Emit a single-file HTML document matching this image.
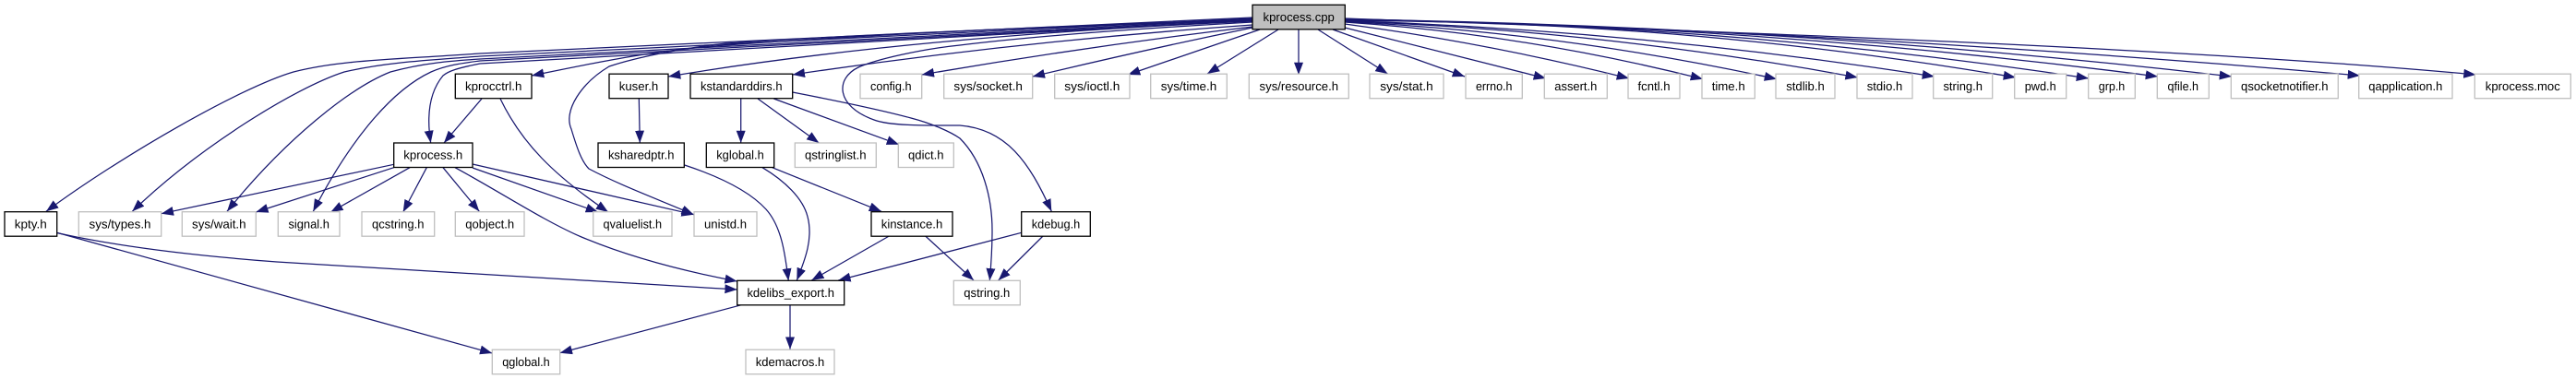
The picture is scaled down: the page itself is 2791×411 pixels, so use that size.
<!DOCTYPE html>
<html><head><meta charset="utf-8"><style>
html,body{margin:0;padding:0;background:#fff;width:2791px;height:411px;overflow:hidden}
svg{display:block}
.e path{fill:none;stroke:#191970;stroke-width:1.25;marker-end:url(#a)}
.b rect{fill:#fff;stroke:#000;stroke-width:1.3}
.g rect{fill:#fff;stroke:#bfbfbf;stroke-width:1.3}
text{font-family:"Liberation Sans",sans-serif;font-size:13.33px;fill:#000;text-anchor:middle;text-rendering:geometricPrecision}
</style></head><body>
<svg width="2791" height="411" viewBox="0 0 2791 411" xmlns="http://www.w3.org/2000/svg">
<defs><marker id="a" markerUnits="userSpaceOnUse" markerWidth="14" markerHeight="11" refX="13.3" refY="5" orient="auto"><path d="M0,0 L13.3,5 L0,10 z" fill="#191970"/></marker></defs>
<g class="e">
<path d="M1357,19 L520,58 C420,65 370,65 318,78 C260,95 130,170 50,229.3"/>
<path d="M1357,20 L520,61 C470,65 420,67 373,78 C320,95 215,160 143.3,229.3"/>
<path d="M1357,21 L520,64 C490,66 460,68 423,78 C380,95 310,150 246,229.3"/>
<path d="M1357,22 L520,66 C505,68 485,70 467,78 C420,100 375,160 339.3,229.3"/>
<path d="M1357,22 L520,69 C495,74 486,77 480,82 C465,100 462,125 466.7,155"/>
<path d="M1357,21 C1250,25 1000,33 773,50 C700,56 640,69 576,82"/>
<path d="M1357,23 C1200,30 950,45 724,83"/>
<path d="M1357,27 Q1100,45 858.7,81"/>
<path d="M1357,29 Q1180,50 998.7,81"/>
<path d="M1357,30 Q1240,54 1118.7,83"/>
<path d="M1365,32 L1222,81"/>
<path d="M1385,32 L1308,80"/>
<path d="M1407,32 L1407,81"/>
<path d="M1428,32 L1503.5,80"/>
<path d="M1444,32 L1587,83"/>
<path d="M1457,30 L1675,85"/>
<path d="M1457,26 Q1611,46.5 1765,85"/>
<path d="M1457,24 Q1651,37 1845,85.7"/>
<path d="M1457,23.5 Q1691,35 1925,85.7"/>
<path d="M1457,23 Q1735,32.7 2012.7,84"/>
<path d="M1457,22.5 Q1776,33 2096,83"/>
<path d="M1457,22.5 Q1820,22 2184,84"/>
<path d="M1457,22 Q1860,24 2263,85"/>
<path d="M1457,21.5 Q1897,25.8 2338,83"/>
<path d="M1457,21 Q1937,27.4 2418,83"/>
<path d="M1457,20.5 Q2007,33.7 2557,82"/>
<path d="M1457,20 C1800,32 2350,50 2682.6,81"/>
<path d="M1357,22 C1200,27 950,36 787,47 C740,52 690,62 660,72 C630,90 610,120 619,140 C625,160 630,175 638,183 C670,200 710,215 751.7,232.7"/>
<path d="M1357,24 C1250,30 1130,38 1040,49 C1000,53 950,64 930,73 C905,85 905,115 947,130 C965,137 1010,136 1040,136 C1090,140 1115,175 1139.3,229.3"/>
<path d="M522,107 L481,155"/>
<path d="M542,107 C565,155 600,190 659,230"/>
<path d="M426.7,178.3 L174.7,231.7"/>
<path d="M426.7,181.7 L277.3,230"/>
<path d="M444,181.7 L358.3,230"/>
<path d="M462.3,181.7 L436.7,230"/>
<path d="M480,181.7 L519.3,229.3"/>
<path d="M493,181.7 C540,207 590,240 630,257 C680,278 735,293 798.7,305"/>
<path d="M512,182 L648,230"/>
<path d="M512,178 L751.7,232.7"/>
<path d="M692.3,107 L693.3,155"/>
<path d="M741.7,179 C775,190 810,205 830,227 C848,247 851,280 854.3,304.5"/>
<path d="M802.7,107 L802.7,155"/>
<path d="M821,107 L887.3,155"/>
<path d="M838.3,107 L974,156.7"/>
<path d="M858.7,100 C900,108 950,118 987,128 C1010,134 1030,143 1040,150 C1065,175 1075,215 1075,250 C1075,270 1074,285 1072.3,304.3"/>
<path d="M826,181.7 C850,196 870,215 875,235 C881,258 873,280 863.3,304"/>
<path d="M836.7,181.7 L955,229.3"/>
<path d="M963.3,256 L879.3,304"/>
<path d="M1002.7,256 L1055,304"/>
<path d="M1106.7,252.3 L908.3,304"/>
<path d="M1130,256 L1081.7,304"/>
<path d="M803.3,330.7 L606.7,382.7"/>
<path d="M856,330.7 L856,378.7"/>
<path d="M61.7,252.5 C130,268 220,278 300,284 C400,291 600,303 798.7,314"/>
<path d="M61.7,252.3 L533.3,383"/>
</g>
<g class="b">
<rect x="1357" y="5.3" width="100.3" height="26.5" style="fill:#bfbfbf"/><text x="1407.2" y="23" textLength="77.3" lengthAdjust="spacingAndGlyphs">kprocess.cpp</text>
<rect x="493.3" y="80.2" width="82.7" height="26.5"/><text x="534.7" y="97.9" textLength="61.5" lengthAdjust="spacingAndGlyphs">kprocctrl.h</text>
<rect x="660" y="80.2" width="64" height="26.5"/><text x="692" y="97.9" textLength="42.5" lengthAdjust="spacingAndGlyphs">kuser.h</text>
<rect x="748" y="80.2" width="110.7" height="26.5"/><text x="803.3" y="97.9" textLength="88.5" lengthAdjust="spacingAndGlyphs">kstandarddirs.h</text>
<rect x="426.7" y="155" width="85.3" height="26.5"/><text x="469.3" y="172.7" textLength="64" lengthAdjust="spacingAndGlyphs">kprocess.h</text>
<rect x="648" y="155" width="93.3" height="26.5"/><text x="694.7" y="172.7" textLength="71.5" lengthAdjust="spacingAndGlyphs">ksharedptr.h</text>
<rect x="765.3" y="155" width="73.4" height="26.5"/><text x="802" y="172.7" textLength="51.5" lengthAdjust="spacingAndGlyphs">kglobal.h</text>
<rect x="5" y="229.7" width="56.7" height="26.5"/><text x="33.3" y="247.3" textLength="35" lengthAdjust="spacingAndGlyphs">kpty.h</text>
<rect x="944" y="229.7" width="88" height="26.5"/><text x="988" y="247.3" textLength="66.5" lengthAdjust="spacingAndGlyphs">kinstance.h</text>
<rect x="1106.7" y="229.7" width="74.6" height="26.5"/><text x="1144" y="247.3" textLength="52.5" lengthAdjust="spacingAndGlyphs">kdebug.h</text>
<rect x="798.7" y="304.3" width="116" height="26.5"/><text x="856.7" y="322" textLength="94.5" lengthAdjust="spacingAndGlyphs">kdelibs_export.h</text>
</g>
<g class="g">
<rect x="932" y="80.2" width="66.7" height="26.5"/><text x="965.3" y="97.9" textLength="44.5" lengthAdjust="spacingAndGlyphs">config.h</text>
<rect x="1022.7" y="80.2" width="96" height="26.5"/><text x="1070.7" y="97.9" textLength="74.5" lengthAdjust="spacingAndGlyphs">sys/socket.h</text>
<rect x="1142.7" y="80.2" width="81.3" height="26.5"/><text x="1183.3" y="97.9" textLength="60" lengthAdjust="spacingAndGlyphs">sys/ioctl.h</text>
<rect x="1246.7" y="80.2" width="82.6" height="26.5"/><text x="1288" y="97.9" textLength="60.5" lengthAdjust="spacingAndGlyphs">sys/time.h</text>
<rect x="1353.3" y="80.2" width="108" height="26.5"/><text x="1407.3" y="97.9" textLength="85.5" lengthAdjust="spacingAndGlyphs">sys/resource.h</text>
<rect x="1484" y="80.2" width="80" height="26.5"/><text x="1524" y="97.9" textLength="57.5" lengthAdjust="spacingAndGlyphs">sys/stat.h</text>
<rect x="1588" y="80.2" width="61.3" height="26.5"/><text x="1618.7" y="97.9" textLength="39.5" lengthAdjust="spacingAndGlyphs">errno.h</text>
<rect x="1673.3" y="80.2" width="68" height="26.5"/><text x="1707.3" y="97.9" textLength="46" lengthAdjust="spacingAndGlyphs">assert.h</text>
<rect x="1764" y="80.2" width="56" height="26.5"/><text x="1792" y="97.9" textLength="35" lengthAdjust="spacingAndGlyphs">fcntl.h</text>
<rect x="1844" y="80.2" width="57.3" height="26.5"/><text x="1872.7" y="97.9" textLength="36" lengthAdjust="spacingAndGlyphs">time.h</text>
<rect x="1924" y="80.2" width="64" height="26.5"/><text x="1956" y="97.9" textLength="41.5" lengthAdjust="spacingAndGlyphs">stdlib.h</text>
<rect x="2012" y="80.2" width="60" height="26.5"/><text x="2042" y="97.9" textLength="38.5" lengthAdjust="spacingAndGlyphs">stdio.h</text>
<rect x="2094.7" y="80.2" width="64" height="26.5"/><text x="2126.7" y="97.9" textLength="42.5" lengthAdjust="spacingAndGlyphs">string.h</text>
<rect x="2182.7" y="80.2" width="56" height="26.5"/><text x="2210.7" y="97.9" textLength="34" lengthAdjust="spacingAndGlyphs">pwd.h</text>
<rect x="2262.7" y="80.2" width="50.6" height="26.5"/><text x="2288" y="97.9" textLength="28.5" lengthAdjust="spacingAndGlyphs">grp.h</text>
<rect x="2337.3" y="80.2" width="56" height="26.5"/><text x="2365.3" y="97.9" textLength="33.5" lengthAdjust="spacingAndGlyphs">qfile.h</text>
<rect x="2417.3" y="80.2" width="116" height="26.5"/><text x="2475.3" y="97.9" textLength="94.5" lengthAdjust="spacingAndGlyphs">qsocketnotifier.h</text>
<rect x="2555.7" y="80.2" width="101.3" height="26.5"/><text x="2606.3" y="97.9" textLength="80" lengthAdjust="spacingAndGlyphs">qapplication.h</text>
<rect x="2681.3" y="80.2" width="104" height="26.5"/><text x="2733.3" y="97.9" textLength="81" lengthAdjust="spacingAndGlyphs">kprocess.moc</text>
<rect x="861.3" y="155" width="88" height="26.5"/><text x="905.3" y="172.7" textLength="66.5" lengthAdjust="spacingAndGlyphs">qstringlist.h</text>
<rect x="973.3" y="155" width="60" height="26.5"/><text x="1003.3" y="172.7" textLength="38.5" lengthAdjust="spacingAndGlyphs">qdict.h</text>
<rect x="85.3" y="229.7" width="89.4" height="26.5"/><text x="130" y="247.3" textLength="67" lengthAdjust="spacingAndGlyphs">sys/types.h</text>
<rect x="197.3" y="229.7" width="80" height="26.5"/><text x="237.3" y="247.3" textLength="58.5" lengthAdjust="spacingAndGlyphs">sys/wait.h</text>
<rect x="301.3" y="229.7" width="66.7" height="26.5"/><text x="334.7" y="247.3" textLength="44.5" lengthAdjust="spacingAndGlyphs">signal.h</text>
<rect x="392" y="229.7" width="78.7" height="26.5"/><text x="431.3" y="247.3" textLength="56.5" lengthAdjust="spacingAndGlyphs">qcstring.h</text>
<rect x="493.3" y="229.7" width="74.7" height="26.5"/><text x="530.7" y="247.3" textLength="53" lengthAdjust="spacingAndGlyphs">qobject.h</text>
<rect x="642.7" y="229.7" width="85.3" height="26.5"/><text x="685.3" y="247.3" textLength="63.5" lengthAdjust="spacingAndGlyphs">qvaluelist.h</text>
<rect x="752" y="229.7" width="68" height="26.5"/><text x="786" y="247.3" textLength="46" lengthAdjust="spacingAndGlyphs">unistd.h</text>
<rect x="1033.3" y="304.3" width="72" height="26.5"/><text x="1069.3" y="322" textLength="50" lengthAdjust="spacingAndGlyphs">qstring.h</text>
<rect x="533.3" y="379.2" width="73.4" height="26.5"/><text x="570" y="396.8" textLength="51.5" lengthAdjust="spacingAndGlyphs">qglobal.h</text>
<rect x="808" y="379.2" width="96" height="26.5"/><text x="856" y="396.8" textLength="74.5" lengthAdjust="spacingAndGlyphs">kdemacros.h</text>
</g>
</svg>
</body></html>
